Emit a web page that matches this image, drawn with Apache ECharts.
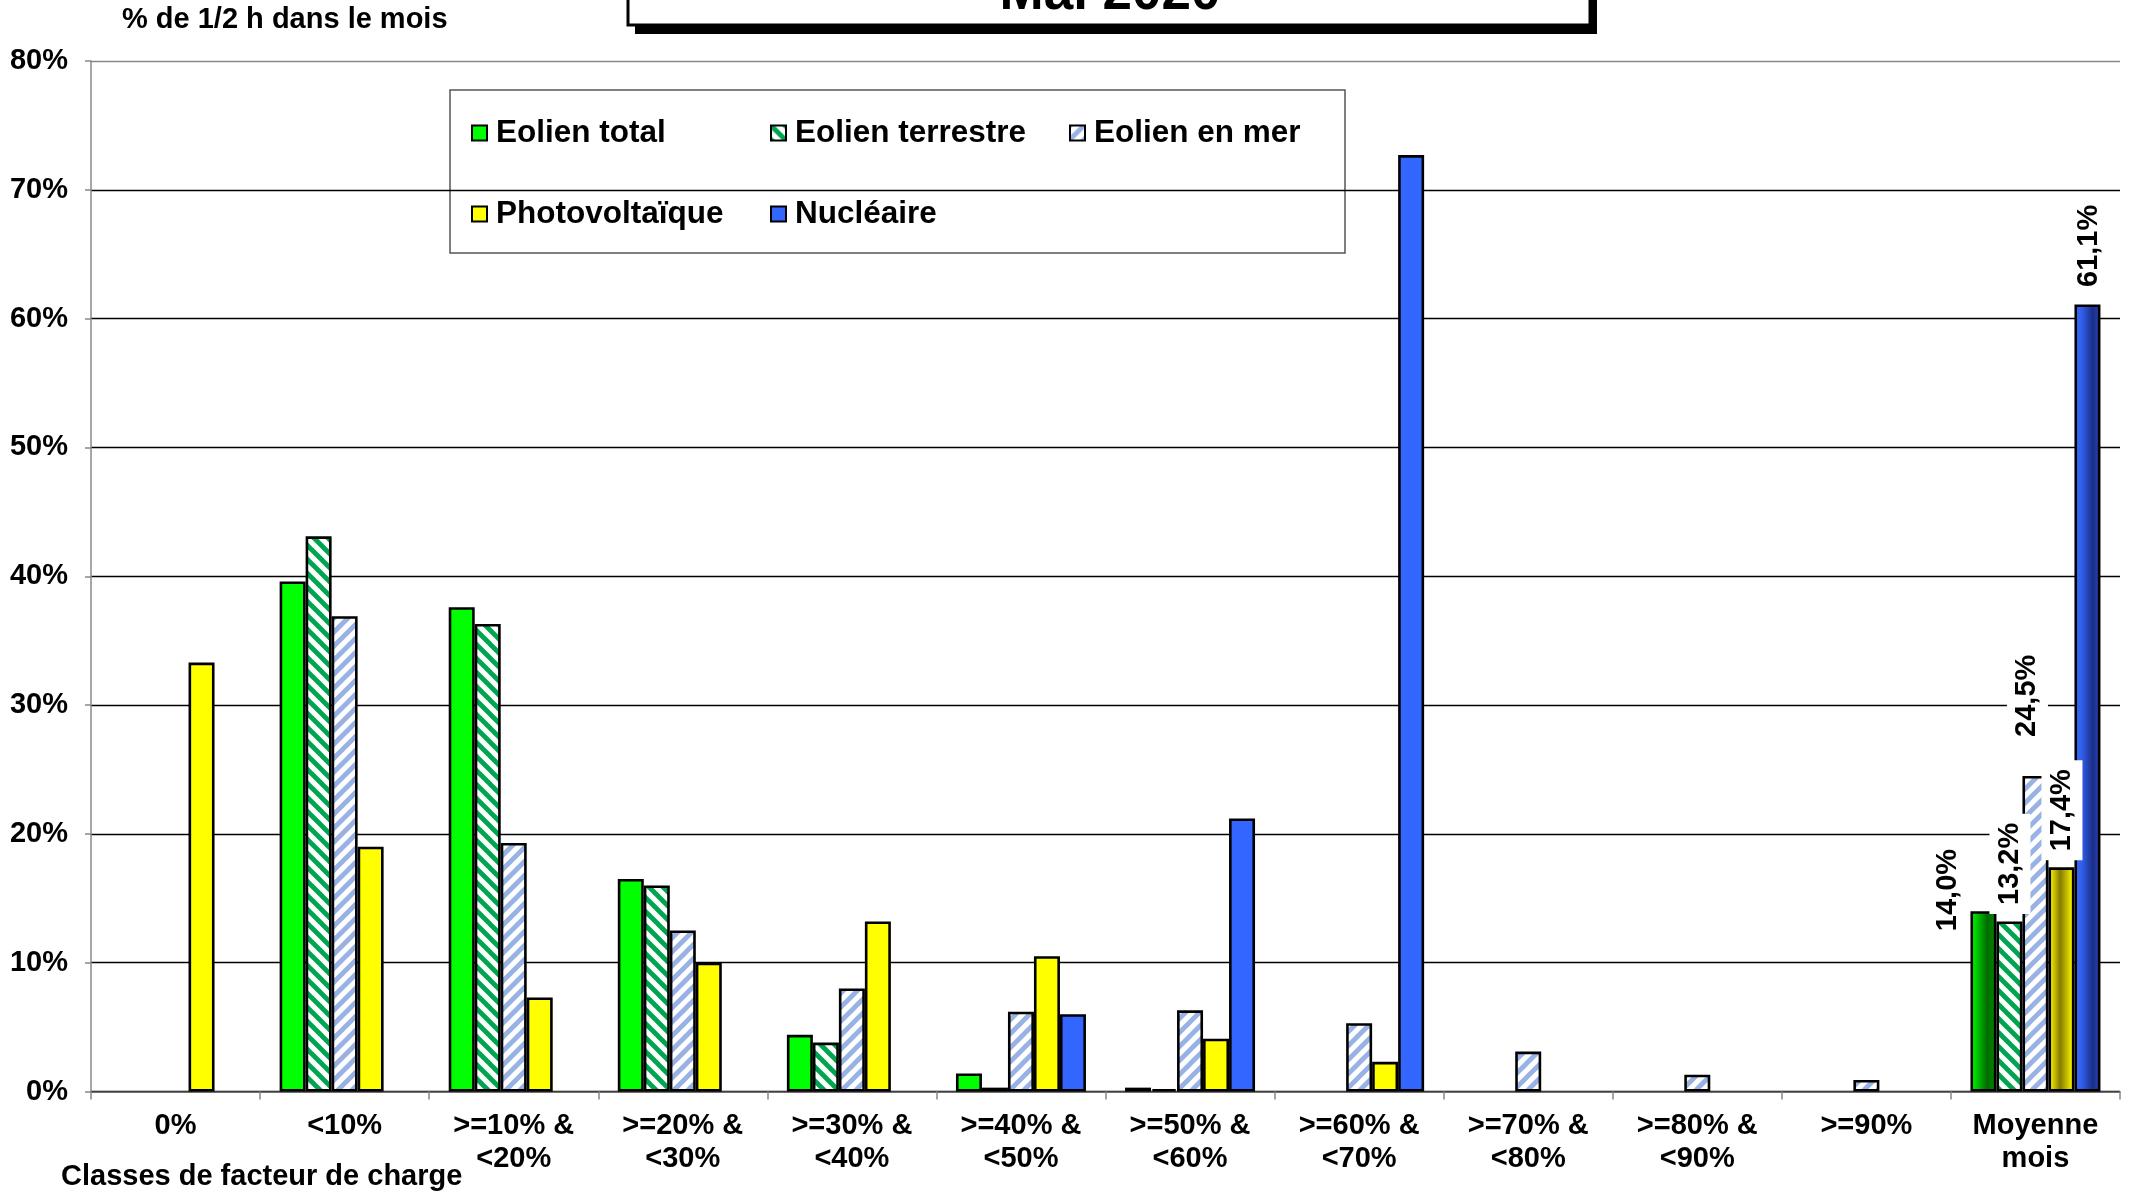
<!DOCTYPE html>
<html>
<head>
<meta charset="utf-8">
<script src="https://cdn.jsdelivr.net/npm/echarts@6/dist/echarts.min.js"></script>
<style>
html,body{margin:0;padding:0;background:#fff;}
#chart{width:2131px;height:1192px;}
</style>
</head>
<body>
<div id="chart"></div>
<script>
// ---- data ----
const categories = ['0%', '<10%', '>=10% &\n<20%', '>=20% &\n<30%', '>=30% &\n<40%', '>=40% &\n<50%',
  '>=50% &\n<60%', '>=60% &\n<70%', '>=70% &\n<80%', '>=80% &\n<90%', '>=90%', 'Moyenne\nmois'];
const seriesNames = ['Eolien total', 'Eolien terrestre', 'Eolien en mer', 'Photovoltaïque', 'Nucléaire'];
const eolienTotal     = [null, 39.6, 37.6, 16.5, 4.4, 1.4, 0.3, null, null, null, null, 14.0];
const eolienTerrestre = [null, 43.1, 36.3, 16.0, 3.8, 0.3, 0.2, null, null, null, null, 13.2];
const eolienMer       = [null, 36.9, 19.3, 12.5, 8.0, 6.2, 6.3, 5.3, 3.1, 1.3, 0.9, 24.5];
const photovoltaique  = [33.3, 19.0, 7.3, 10.0, 13.2, 10.5, 4.1, 2.3, null, null, null, 17.4];
const nucleaire       = [null, null, null, null, null, 6.0, 21.2, 72.7, null, null, null, 61.1];
const yTicks = [0, 10, 20, 30, 40, 50, 60, 70, 80];
const titleText = 'Mai 2020';
const yTitle = '% de 1/2 h dans le mois';
const xTitle = 'Classes de facteur de charge';

// ---- styles ----
const FONT = "'Liberation Sans', Arial, sans-serif";
function stripePattern(fg, dir) {
  const s = 14, c = document.createElement('canvas');
  c.width = s; c.height = s;
  const g = c.getContext('2d');
  g.fillStyle = '#fff'; g.fillRect(0, 0, s, s);
  g.strokeStyle = fg; g.lineWidth = 4.8; g.lineCap = 'square';
  for (const k of [-s, 0, s]) {
    g.beginPath();
    if (dir === '\\') { g.moveTo(k, 0); g.lineTo(k + s, s); }
    else { g.moveTo(k + s, 0); g.lineTo(k, s); }
    g.stroke();
  }
  return { image: c, repeat: 'repeat' };
}
const lin = (stops) => ({ type: 'linear', x: 0, y: 0, x2: 1, y2: 0,
  colorStops: stops.map((c) => ({ offset: c[0], color: c[1] })) });

const baseColors = ['#00ff00', stripePattern('#00a550', '\\'), stripePattern('#97b2e3', '/'), '#ffff00', '#3366ff'];
const avgColors = [
  lin([[0, '#30ff30'], [0.12, '#00e600'], [0.65, '#006a00'], [1, '#008a00']]),
  null, null,
  lin([[0, '#ffff20'], [0.15, '#e0d800'], [0.45, '#847c00'], [0.85, '#e8e000'], [1, '#ffff30']]),
  lin([[0, '#3a6cff'], [0.3, '#2f5de8'], [0.7, '#1a2e85'], [1, '#2846c0']])
];
// label anchor for the "Moyenne mois" values: [x from bar left, y from bar top]
const avgLabelPos = [[-22, 29], [13.5, -7.5], [5, -30], [13.5, -7], [15, -8.5]];

const allData = [eolienTotal, eolienTerrestre, eolienMer, photovoltaique, nucleaire];
const lastIdx = categories.length - 1;

const series = allData.map((arr, si) => ({
  name: seriesNames[si],
  type: 'bar',
  barWidth: 26,
  barGap: '0%',
  itemStyle: { color: baseColors[si], borderColor: '#000', borderWidth: 2.6 },
  emphasis: { disabled: true },
  data: arr.map((v, i) => {
    if (i !== lastIdx || v == null) return v;
    const d = {
      value: v,
      label: {
        show: true, position: avgLabelPos[si], rotate: 90, align: 'left', verticalAlign: 'middle',
        fontSize: 29, fontWeight: 'bold', fontFamily: FONT, color: '#000',
        backgroundColor: '#fff', padding: [6, 9],
        formatter: (p) => p.value.toFixed(1).replace('.', ',') + '%'
      }
    };
    if (avgColors[si]) d.itemStyle = { color: avgColors[si] };
    return d;
  })
}));

const legendCols = [471, 770, 1069];
const legendRows = [133, 214];
const legendPos = [[0, 0], [1, 0], [2, 0], [0, 1], [1, 1]];
const legends = seriesNames.map((n, i) => ({
  data: [n], left: legendCols[legendPos[i][0]], top: legendRows[legendPos[i][1]] - 16,
  padding: 0, itemWidth: 15, itemHeight: 15, icon: 'rect', selectedMode: false,
  textStyle: { fontSize: 31.5, fontWeight: 'bold', fontFamily: FONT, color: '#000', lineHeight: 32, padding: [0, 0, 0, 4] }
}));

const chart = echarts.init(document.getElementById('chart'), null, { renderer: 'canvas' });
chart.setOption({
  animation: false,
  backgroundColor: '#fff',
  textStyle: { fontFamily: FONT },
  grid: { left: 91, right: 11, top: 61, bottom: 100.5, containLabel: false, outerBoundsMode: 'none' },
  legend: legends,
  xAxis: {
    type: 'category', data: categories,
    axisLine: { show: true, lineStyle: { color: '#555', width: 1.5 } },
    axisTick: { show: true, length: 8, lineStyle: { color: '#888', width: 1.5 } },
    axisLabel: { fontSize: 29, fontWeight: 'bold', fontFamily: FONT, color: '#000', lineHeight: 33, margin: 18, interval: 0 },
    splitLine: { show: false }
  },
  yAxis: {
    type: 'value', min: yTicks[0], max: yTicks[yTicks.length - 1], interval: 10,
    axisLine: { show: true, lineStyle: { color: '#888', width: 1.5 } },
    axisTick: { show: true, length: 6, lineStyle: { color: '#888', width: 1.5 } },
    axisLabel: { fontSize: 29, fontWeight: 'bold', fontFamily: FONT, color: '#000', margin: 23, formatter: '{value}%' },
    splitLine: { show: true, lineStyle: { color: ['#000','#000','#000','#000','#000','#000','#000','#000','#888'], width: 1.3 } }
  },
  series: series,
  graphic: [
    { type: 'rect', z: 0, shape: { x: 450, y: 90, width: 895, height: 163 },
      style: { fill: '#fff', stroke: '#555', lineWidth: 1.5 } },
    { type: 'rect', z: 10, shape: { x: 635, y: -20, width: 962, height: 54 },
      style: { fill: '#000' } },
    { type: 'rect', z: 11, shape: { x: 628, y: -20, width: 962, height: 45 },
      style: { fill: '#fff', stroke: '#000', lineWidth: 3 } },
    { type: 'text', z: 12, x: 1110, y: -6,
      style: { text: titleText, fontSize: 53, fontWeight: 'bold', fontFamily: FONT, fill: '#000', align: 'center', verticalAlign: 'middle' } },
    { type: 'text', z: 11, x: 122, y: 20,
      style: { text: yTitle, fontSize: 29, fontWeight: 'bold', fontFamily: FONT, fill: '#000', align: 'left', verticalAlign: 'middle' } },
    { type: 'text', z: 11, x: 61, y: 1177,
      style: { text: xTitle, fontSize: 29, fontWeight: 'bold', fontFamily: FONT, fill: '#000', align: 'left', verticalAlign: 'middle' } }
  ]
});
</script>
</body>
</html>
